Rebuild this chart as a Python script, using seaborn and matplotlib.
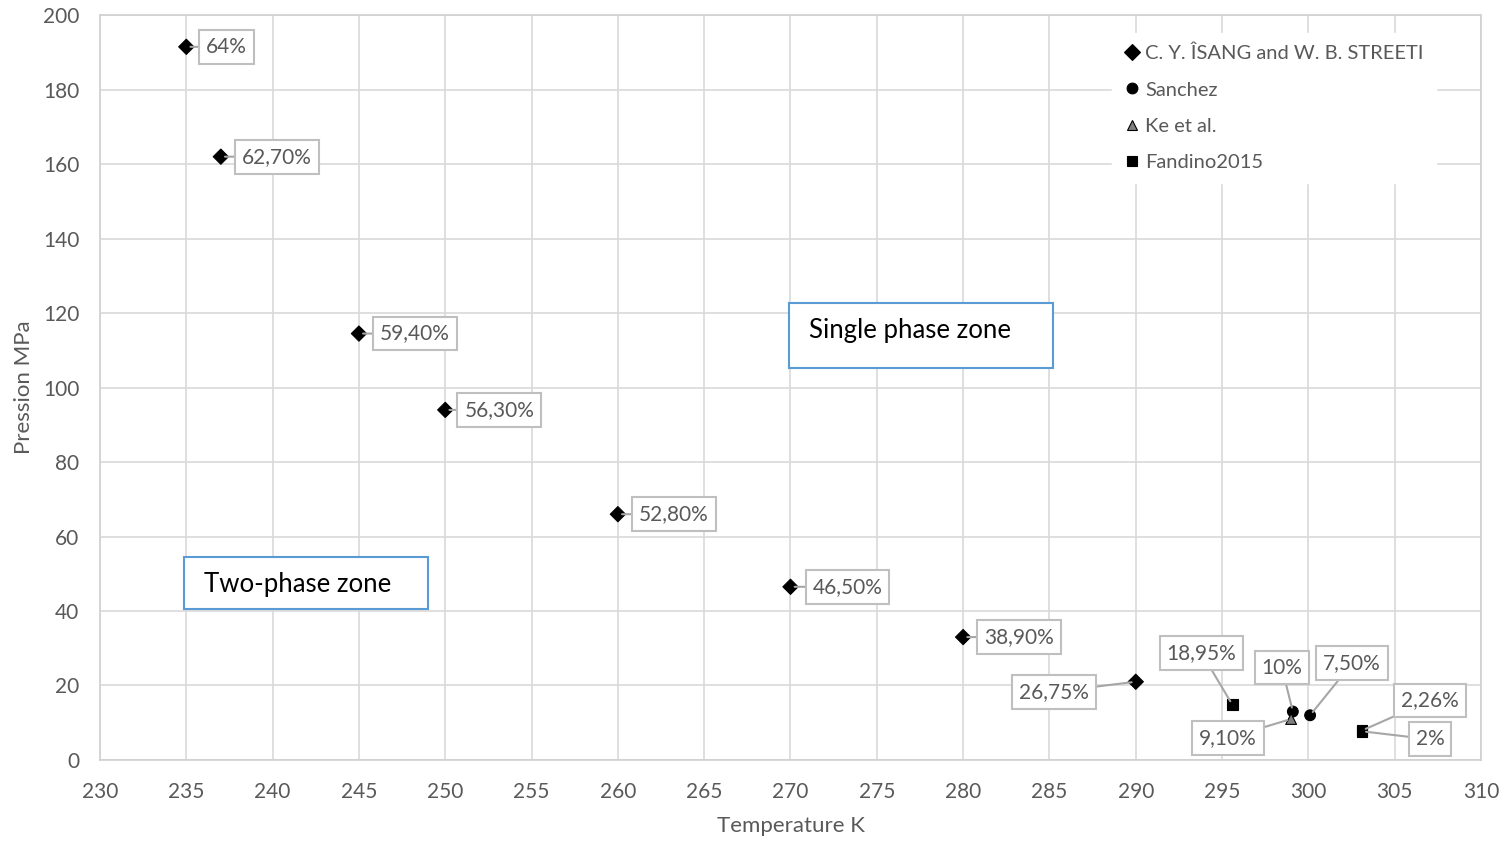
import matplotlib
matplotlib.use("Agg")
import matplotlib.pyplot as plt
from matplotlib.patches import Rectangle
import seaborn as sns
import pandas as pd

# ---- data ----
series = ["C. Y. ÎSANG and W. B. STREETI"] * 8 + ["Sanchez"] * 2 + ["Ke et al."] + ["Fandino2015"] * 3
temps = [235, 237, 245, 250, 260, 270, 280, 290, 299.1, 300.1, 299.0, 295.6, 303.1, 303.1]
press = [191.5, 162, 114.5, 94, 66, 46.5, 33, 21, 13, 12, 11, 14.8, 7.9, 7.7]
labels = ["64%", "62,70%", "59,40%", "56,30%", "52,80%", "46,50%", "38,90%", "26,75%",
          "10%", "7,50%", "9,10%", "18,95%", "2,26%", "2%"]
# label offsets in pixels (layout only)
offsets = [(40, 0), (56, 0), (56, 0), (54, 0), (56, 0), (57, 0), (56, 0), (-82, -10),
           (-11, 44), (42, 52), (-63, -19), (-31, 52), (68, 30), (68, -8)]
x_ticks = list(range(230, 311, 5))
y_ticks = list(range(0, 201, 20))

df = pd.DataFrame({"series": series, "T": temps, "P": press})

sns.set_theme(style="white")
plt.rcParams['font.family'] = ['Lato', 'DejaVu Sans']
txt = "#595959"

fig = plt.figure(figsize=(14.99, 8.43), dpi=100)
ax = fig.add_axes([0.0667, 0.0985, 0.9213, 0.8835])

order = ["C. Y. ÎSANG and W. B. STREETI", "Sanchez", "Ke et al.", "Fandino2015"]
markers = {"C. Y. ÎSANG and W. B. STREETI": "D", "Sanchez": "o", "Ke et al.": "^", "Fandino2015": "s"}
palette = {"C. Y. ÎSANG and W. B. STREETI": "black", "Sanchez": "black", "Ke et al.": "#7f7f7f", "Fandino2015": "black"}
sns.scatterplot(data=df, x="T", y="P", hue="series", style="series", hue_order=order,
                style_order=order, markers=markers, palette=palette, s=60,
                edgecolor="black", linewidth=0.8, ax=ax, zorder=5)

ax.set_xlim(230, 310)
ax.set_ylim(0, 200)
ax.set_xticks(x_ticks)
ax.set_yticks(y_ticks)
ax.grid(True, color="#d9d9d9", linewidth=1.2)
ax.set_axisbelow(True)
for sp in ax.spines.values():
    sp.set_color("#d0d0d0")
    sp.set_linewidth(1.2)
ax.tick_params(axis="x", colors=txt, labelsize=15, length=0, pad=16)
ax.tick_params(axis="y", colors=txt, labelsize=15, length=0, pad=15)
ax.set_xlabel("Temperature K", color=txt, fontsize=16, labelpad=10)
ax.set_ylabel("Pression MPa", color=txt, fontsize=16, labelpad=6)

for x, y, lab, (dx, dy) in zip(temps, press, labels, offsets):
    ax.annotate(lab, xy=(x, y), xytext=(dx, dy), textcoords="offset pixels",
                ha="center", va="center", fontsize=15, color=txt, zorder=6,
                bbox=dict(boxstyle="square,pad=0.33", fc="white", ec="#bfbfbf", lw=1.5),
                arrowprops=dict(arrowstyle="-", color="#a6a6a6", lw=1.5, shrinkA=0, shrinkB=3))

# zone text boxes
ax.add_patch(Rectangle((234.87, 40.5), 14.13, 14.0, fc="white", ec="#5b9bd5", lw=1.5, zorder=4))
ax.text(236.05, 47.0, "Two-phase zone", fontsize=18.5, color="black", va="center", ha="left", zorder=4.5)
ax.add_patch(Rectangle((269.92, 105.2), 15.29, 17.5, fc="white", ec="#5b9bd5", lw=1.5, zorder=4))
ax.text(271.05, 115.2, "Single phase zone", fontsize=18.5, color="black", va="center", ha="left", zorder=4.5)

leg = ax.legend(loc="upper left", bbox_to_anchor=(0.7256, 0.990), frameon=True, fontsize=14.5,
                handletextpad=0.25, labelspacing=0.95, borderpad=0.6, markerscale=1.0,
                handlelength=0.8)
leg.get_frame().set_facecolor("white")
leg.get_frame().set_edgecolor("white")
leg.get_frame().set_alpha(1)
leg.get_frame().set_boxstyle("square", pad=0)
for t in leg.get_texts():
    t.set_color(txt)

fig.savefig("out.png", dpi=100)
